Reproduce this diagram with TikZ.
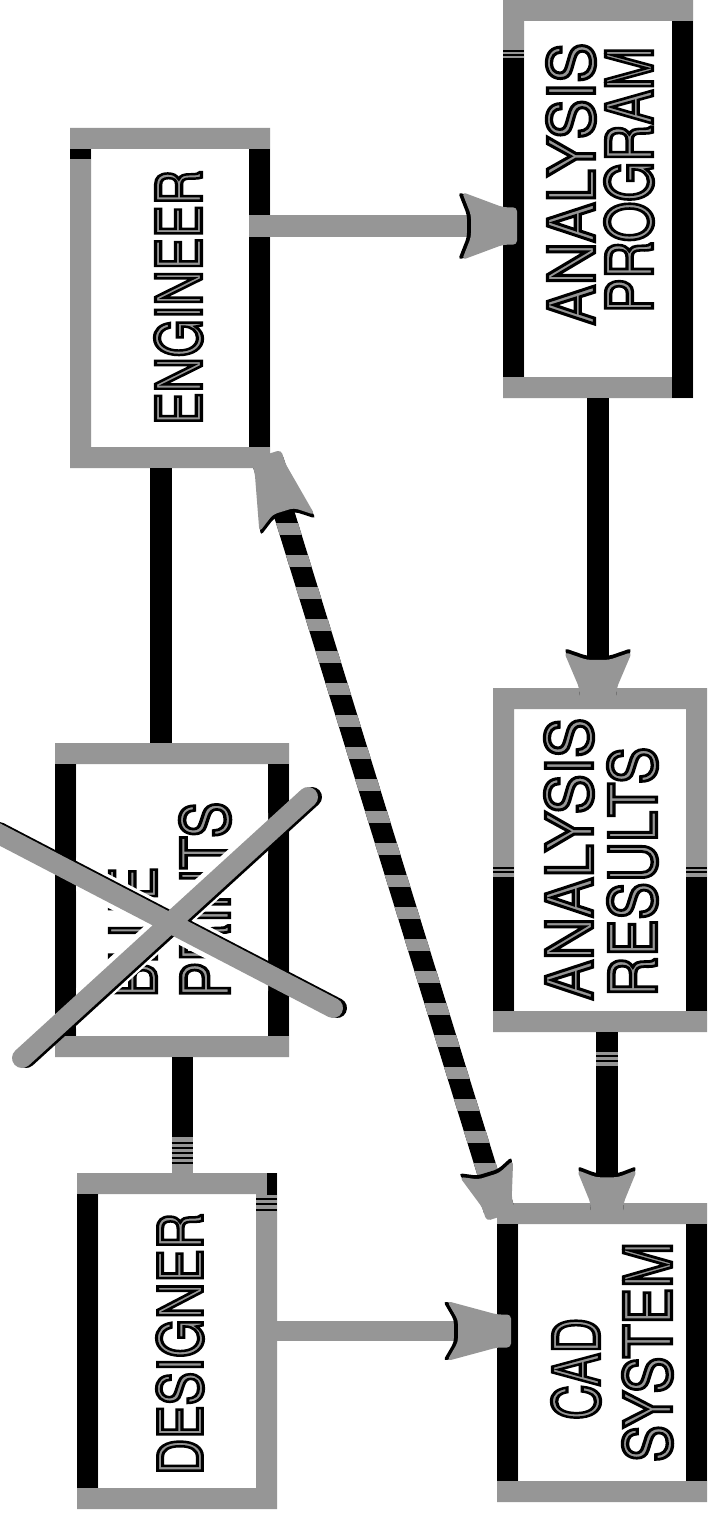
\documentclass[tikz,border=0pt]{standalone}
\usepackage{fontspec}
\setmainfont{TeX Gyre Heros}
\newfontfamily\lettering[FakeBold=5]{TeX Gyre Heros}
\usetikzlibrary{calc}
\definecolor{gry}{RGB}{150,150,150}
% black edge around the grey lettering (stroke colour for the emboldened glyphs)
\newcommand\inkedge{\special{pdf:literal direct 0 G}}
% grey frame of a box node, 21 units wide
\newcommand\frameof[1]{\fill[gry, even odd rule] (#1.north west) rectangle (#1.south east)
  ($(#1.north west)+(21,21)$) rectangle ($(#1.south east)+(-21,-21)$);}

\tikzset{
  box/.style={rectangle, inner sep=0pt, outer sep=0pt},
  word/.style={rotate=90, inner sep=0pt, outer sep=0pt, text=gry, font=\lettering},
  pipe/.style={black, line width=22pt},
  gpipe/.style={gry, line width=22pt},
  pics/ghead/.style 2 args={code={
    \fill[black, rounded corners=4pt, xshift=-4pt]
      ({-#1},{#2}) -- (0,{0.55*#2}) -- (14,{0.55*#2}) -- (14,{-0.55*#2}) -- (0,{-0.55*#2})
      -- ({-#1},{-#2}) -- ({-0.78*#1},-11) -- ({-0.78*#1},11) -- cycle;
    \fill[gry, rounded corners=4pt]
      ({-#1},{#2}) -- (0,{0.55*#2}) -- (14,{0.55*#2}) -- (14,{-0.55*#2}) -- (0,{-0.55*#2})
      -- ({-#1},{-#2}) -- ({-0.78*#1},-11) -- ({-0.78*#1},11) -- cycle;
  }}
}

\begin{document}
\begin{tikzpicture}[x=1pt, y=-1pt]
\useasboundingbox (0,0) rectangle (712,1514);
\fill[white] (0,0) rectangle (712,1514);

% boxes
\node[box, minimum width=200pt, minimum height=340pt] (eng)  at (170,298)    {};
\node[box, minimum width=190pt, minimum height=398pt] (prog) at (598,199)    {};
\node[box, minimum width=234pt, minimum height=314pt] (blue) at (172,900)    {};
\node[box, minimum width=214pt, minimum height=344pt] (res)  at (600,860)    {};
\node[box, minimum width=200pt, minimum height=336pt] (des)  at (177,1341)   {};
\node[box, minimum width=210pt, minimum height=299pt] (cad)  at (602,1352.5) {};

\frameof{eng}
\frameof{prog}
\frameof{blue}
\frameof{res}
\frameof{des}
\frameof{cad}

% black sides
\fill[black] ($(eng.north east)+(-21,21)$) rectangle ($(eng.south east)+(0,-21)$);
\fill[black] ($(eng.north west)+(0,21)$) rectangle ($(eng.north west)+(21,31)$);

\fill[black] ($(prog.north west)+(0,50)$) rectangle ($(prog.south west)+(21,-21)$);
\fill[black] ($(prog.north east)+(-21,21)$) rectangle (prog.south east);
\draw[gry, line width=1.5pt] ($(prog.north west)+(0,53)$) -- ++(21,0)
  ($(prog.north west)+(0,57)$) -- ++(21,0);

\fill[black] ($(blue.north west)+(0,21)$) rectangle ($(blue.south west)+(21,-21)$);
\fill[black] ($(blue.north east)+(-21,21)$) rectangle ($(blue.south east)+(0,-21)$);

\fill[black] ($(res.north west)+(0,189)$) rectangle ($(res.south west)+(21,-21)$);
\fill[black] ($(res.north east)+(-21,189)$) rectangle ($(res.south east)+(0,-21)$);
\draw[black, line width=1.2pt]
  ($(res.north west)+(0,180)$) -- ++(21,0) ($(res.north west)+(0,184)$) -- ++(21,0)
  ($(res.north east)+(-21,180)$) -- ++(21,0) ($(res.north east)+(-21,184)$) -- ++(21,0);

\fill[black] ($(des.north west)+(0,21)$) rectangle ($(des.south west)+(21,-21)$);
\fill[black] ($(des.north east)+(-10,0)$) rectangle ($(des.north east)+(0,22)$);
\draw[black, line width=1.5pt]
  ($(des.north east)+(-21,26)$) -- ++(21,0) ($(des.north east)+(-21,31)$) -- ++(21,0)
  ($(des.north east)+(-21,37)$) -- ++(21,0);

\fill[black] ($(cad.north west)+(0,21)$) rectangle ($(cad.south west)+(21,-21)$);
\fill[black] ($(cad.north east)+(-21,21)$) rectangle ($(cad.south east)+(0,-21)$);

% lettering
\node[word] (engt)   at (178.5,297.5) {\inkedge\resizebox{255pt}{47pt}{ENGINEER}};
\node[word] (dest)   at (180,1344)    {\inkedge\resizebox{262pt}{46pt}{DESIGNER}};
\node[word] (progt1) at (571,184)     {\inkedge\resizebox{282pt}{48pt}{ANALYSIS}};
\node[word] (progt2) at (629,180)     {\inkedge\resizebox{266pt}{48pt}{PROGRAM}};
\node[word] (rest1)  at (569,859)     {\inkedge\resizebox{282pt}{48pt}{ANALYSIS}};
\node[word] (rest2)  at (632.5,872)   {\inkedge\resizebox{250pt}{49pt}{RESULTS}};
\node[word] (cadt1)  at (576,1369)    {\inkedge\resizebox{102pt}{48pt}{CAD}};
\node[word] (cadt2)  at (647.5,1352)  {\inkedge\resizebox{220pt}{49pt}{SYSTEM}};
\node[word] (bluet1) at (133.5,932)   {\inkedge\resizebox{130pt}{47pt}{BLUE}};
\node[word] (bluet2) at (205,900)     {\inkedge\resizebox{196pt}{50pt}{PRINTS}};

% the cross over BLUE PRINTS
\begin{scope}
  \clip ($(blue.north west)+(21,21)$) rectangle ($(blue.south east)+(-21,-21)$);
  \draw[white, line width=30pt] (-5,832) -- (333,1008) (22,1058) -- (308,797);
\end{scope}
\draw[black, line width=20pt, line cap=round] (-1,832) -- (337,1008) (26,1058) -- (312,797);
\draw[gry, line width=20pt, line cap=round] (-5,832) -- (333,1008) (22,1058) -- (308,797);

% ENGINEER -- BLUE PRINTS -- DESIGNER
\coordinate (e2b) at ($(eng.south)+(-9,0)$);
\draw[pipe] (e2b) -- (e2b |- blue.north);
\coordinate (b2d) at ($(blue.south)+(10,0)$);
\coordinate (b2dend) at (b2d |- des.north);
\draw[pipe, line width=21pt] (b2d) -- (b2dend);
\fill[gry] ($(b2dend)+(-10.5,0)$) rectangle ($(b2dend)+(10.5,-36)$);
\foreach \s in {10,15,20,25,30}
  \draw[black, line width=1.4pt] ($(b2dend)+(-10.5,-\s)$) -- ++(21,0);

% ANALYSIS PROGRAM -> ANALYSIS RESULTS -> CAD SYSTEM
\draw[pipe] (prog.south) -- (prog.south |- res.north) pic[rotate=-90]{ghead={36}{34}};
\coordinate (r2c) at ($(res.south)+(7,0)$);
\draw[pipe] (r2c) -- (r2c |- cad.north) pic[rotate=-90]{ghead={33}{30}};
\fill[gry] ($(r2c)+(-11,20)$) rectangle ($(r2c)+(11,34)$);
\draw[black, line width=1.2pt] ($(r2c)+(-11,24)$) -- ++(22,0) ($(r2c)+(-11,29)$) -- ++(22,0);

% ENGINEER -> ANALYSIS PROGRAM
\coordinate (e2p) at ($(eng.east)+(0,-72)$);
\draw[gpipe] ($(e2p)+(-21,0)$) -- (e2p -| prog.west) pic{ghead={41}{34}};

% DESIGNER -> CAD SYSTEM
\coordinate (d2c) at ($(des.east)+(0,-10)$);
\draw[gpipe, line width=20pt] (d2c) -- (d2c -| cad.west) pic{ghead={50}{30}};

% ENGINEER <-> CAD SYSTEM, striped
\fill[black] ($(eng.south east)+(-11,0)$) -- ($(eng.south east)+(11,0)$)
  -- ($(cad.north west)+(11,0)$) -- ($(cad.north west)+(-11,0)$) -- cycle;
\begin{scope}
  \clip ($(eng.south east)+(-11,0)$) -- ($(eng.south east)+(11,0)$)
    -- ($(cad.north west)+(11,0)$) -- ($(cad.north west)+(-11,0)$) -- cycle;
  \foreach \k in {0,...,22}
    \fill[gry] (200,{491+32*\k}) rectangle (560,{503+32*\k});
\end{scope}
\path let \p1 = ($(cad.north west)-(eng.south east)$), \n1 = {atan2(\y1,\x1)} in
  (cad.north west) pic[rotate=\n1]{ghead={36}{28}}
  (eng.south east) pic[rotate=\n1+180]{ghead={58}{29}};
\end{tikzpicture}
\end{document}
